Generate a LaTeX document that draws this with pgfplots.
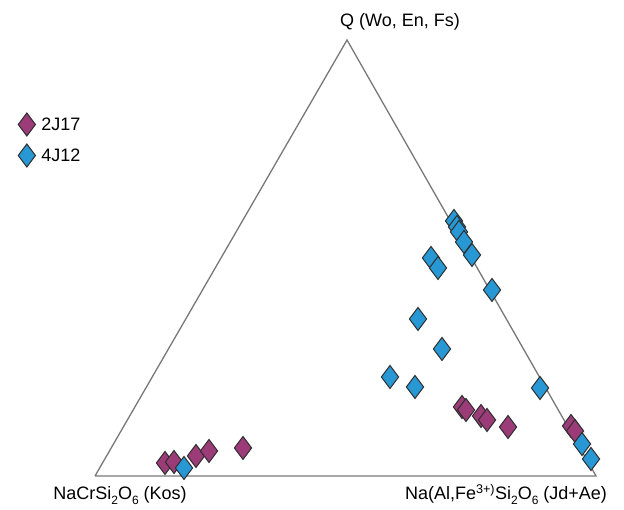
\documentclass[border=0pt]{standalone}
\usepackage{fontspec}
\setmainfont{Liberation Sans}
\usepackage{pgfplots}
\pgfplotsset{compat=1.18}
\definecolor{mag}{RGB}{155,60,120}
\definecolor{blu}{RGB}{40,152,212}
\definecolor{edge}{RGB}{45,45,45}
\definecolor{tri}{RGB}{120,120,120}
\newcommand{\sub}[1]{\raisebox{-0.45ex}{\fontsize{12}{14}\selectfont #1}}
\begin{document}
\begin{tikzpicture}
\begin{axis}[
  scale only axis, width=624pt, height=510pt,
  xmin=0, xmax=624, ymin=0, ymax=510,
  hide axis, clip=false,
  legend style={at={(axis cs:18,370)}, anchor=west, draw=none, fill=none,
    font=\fontsize{18}{21}\selectfont, row sep=8pt, inner sep=0pt},
  legend cell align=left,
]
\path (axis cs:0,0) rectangle (axis cs:624,510);
\addplot[tri, line width=1.3pt, forget plot] coordinates {(95,34) (596,34) (347,470) (95,34)};
% 2J17
\addplot[only marks, mark=diamond*, mark size=11.5pt,
  mark options={fill=mag, draw=edge, line width=1pt}] coordinates {
  (165,47) (174,48) (196,54) (209,59) (243,62)
  (462,103) (466,100) (481,94) (487,90) (508,83)
  (571,84) (575,79)
};
\addlegendentry{\hspace{4pt}2J17}
% 4J12
\addplot[only marks, mark=diamond*, mark size=11.5pt,
  mark options={fill=blu, draw=edge, line width=1pt}] coordinates {
  (454,289) (457,283) (459,278) (464,268) (472,255) (492,220)
  (431,252) (438,242) (418,191) (442,161) (390,133) (415,123)
  (540,122) (582,66) (591,51) (184,42)
};
\addlegendentry{\hspace{4pt}4J12}
\node[anchor=base, font=\fontsize{18}{21}\selectfont] at (axis cs:400,483) {Q (Wo, En, Fs)};
\node[anchor=base, font=\fontsize{18}{21}\selectfont] at (axis cs:120,10) {NaCrSi\sub{2}O\sub{6} (Kos)};
\node[anchor=base, font=\fontsize{18}{21}\selectfont] at (axis cs:506,10) {Na(Al,Fe\textsuperscript{3+)}Si\sub{2}O\sub{6} (Jd+Ae)};
\end{axis}
\end{tikzpicture}
\end{document}
